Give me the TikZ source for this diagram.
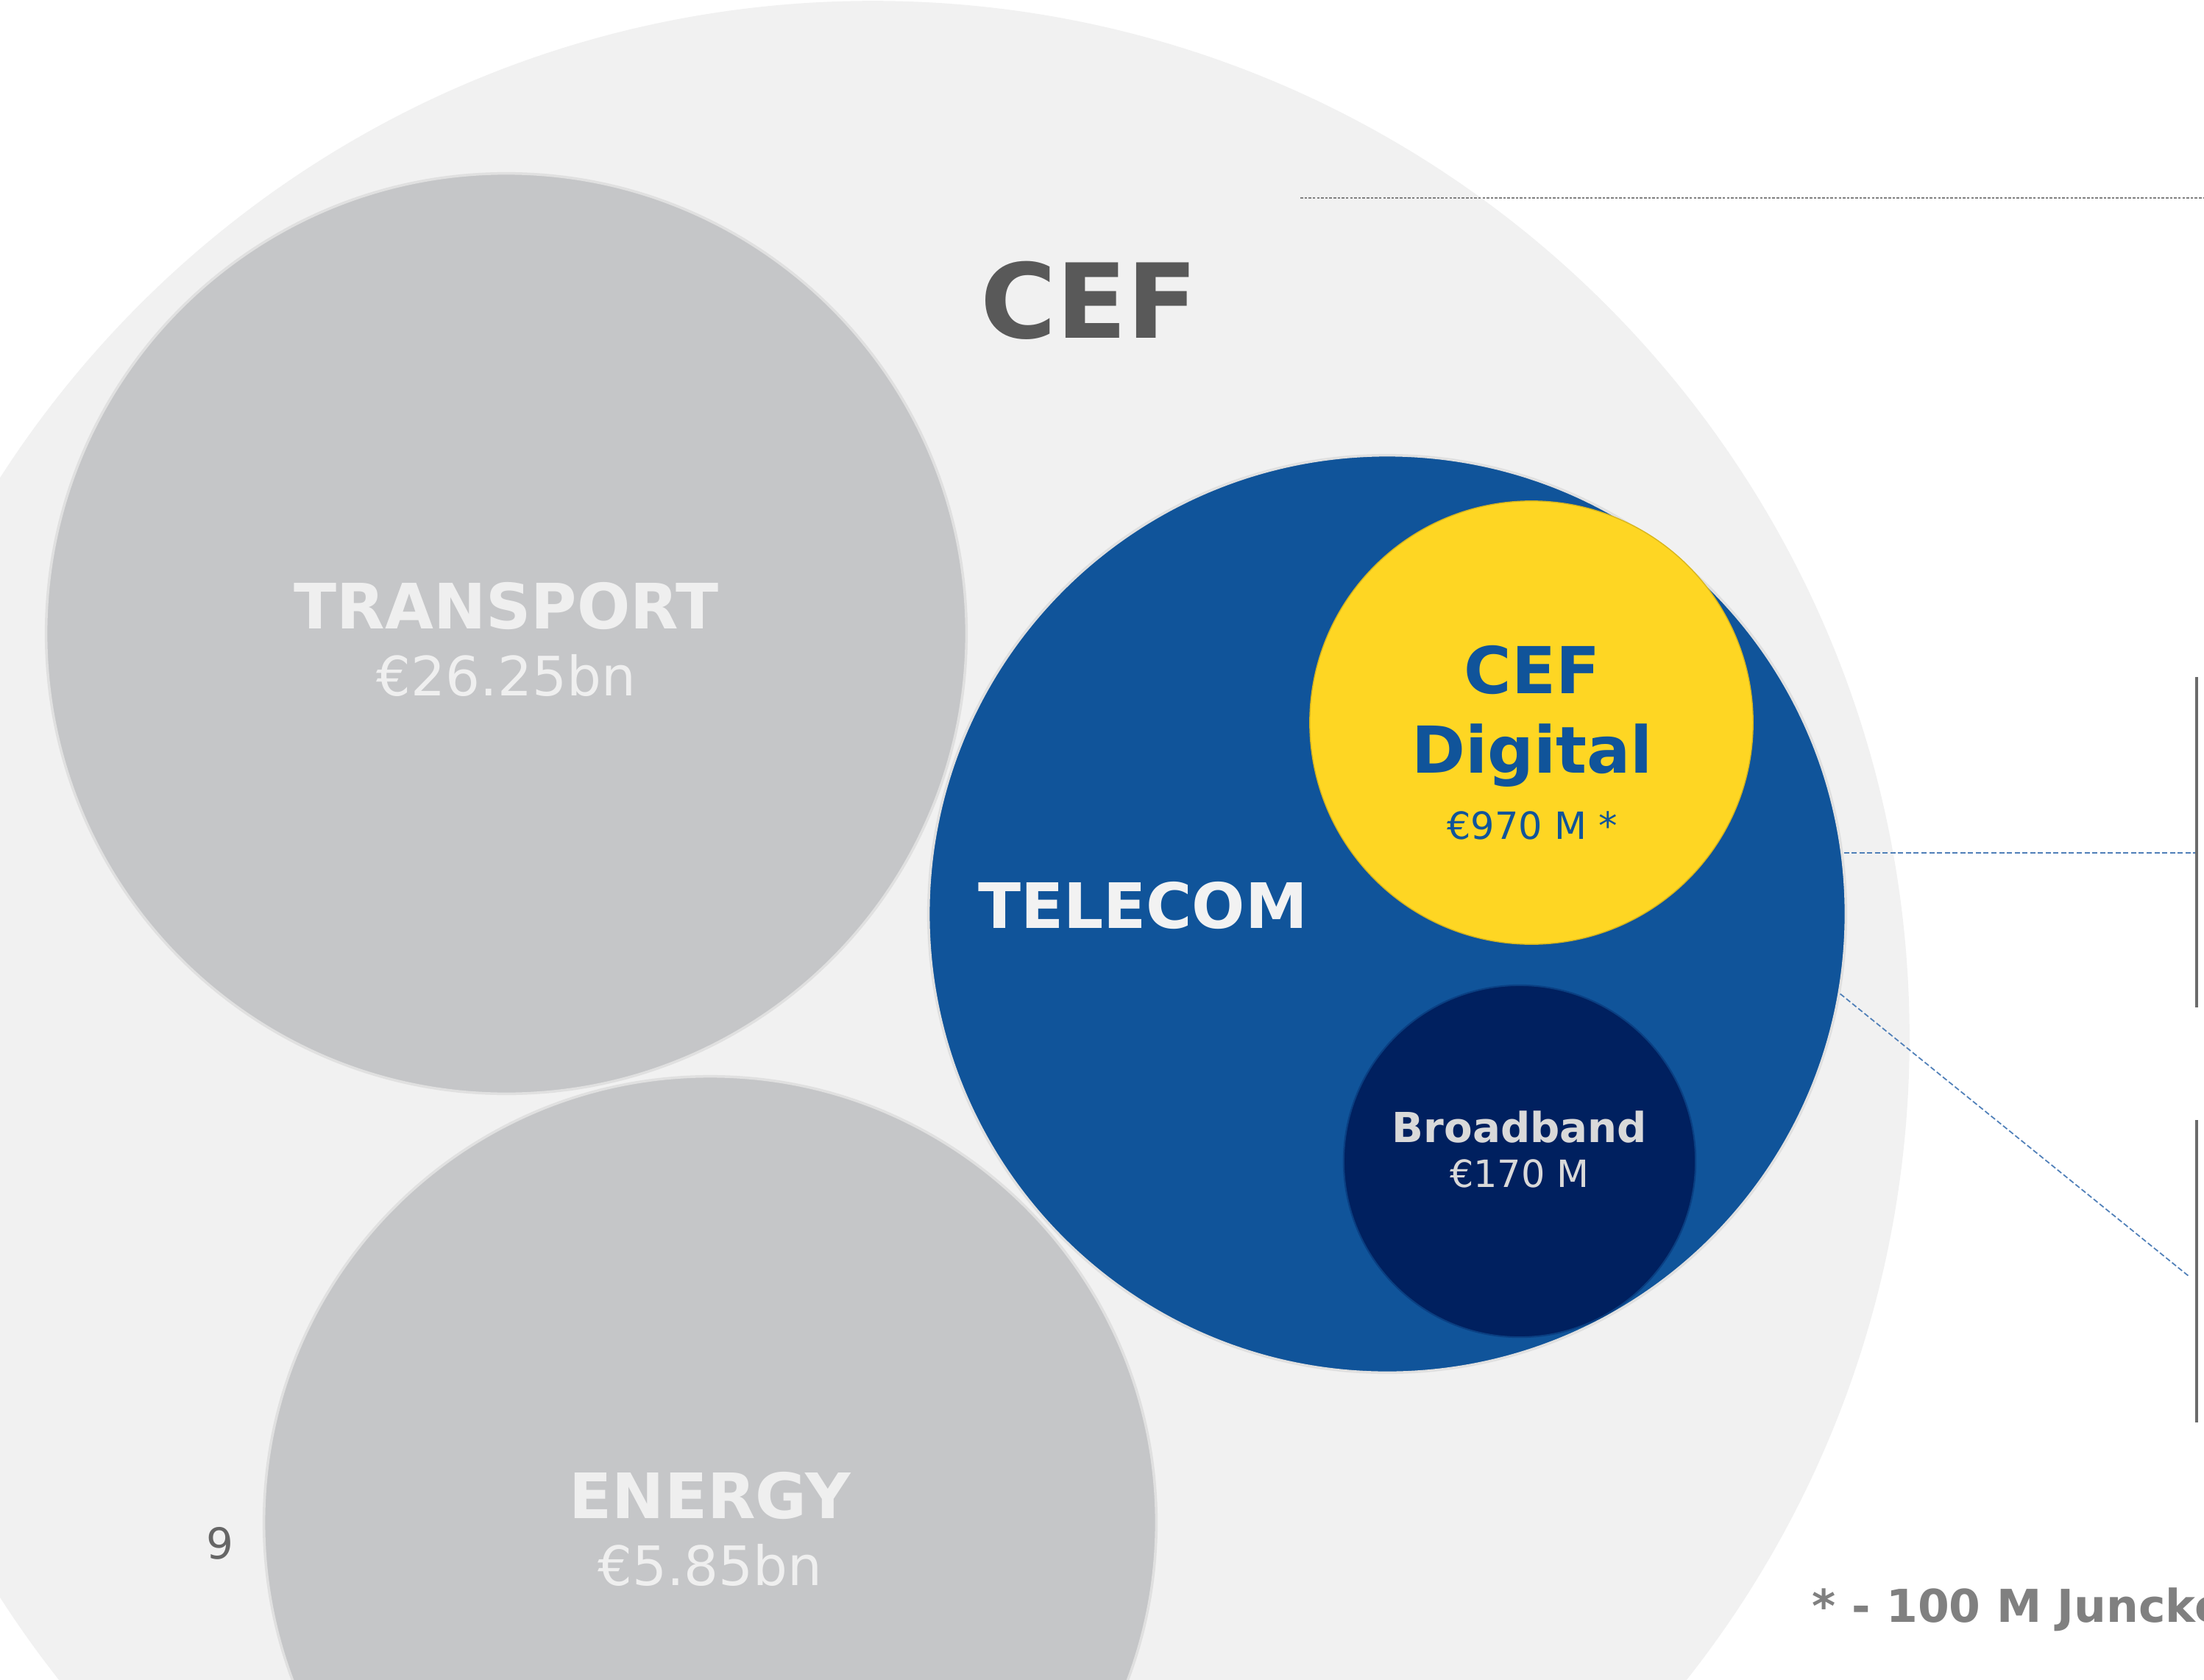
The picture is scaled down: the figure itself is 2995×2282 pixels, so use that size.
\documentclass[tikz,border=0pt]{standalone}
\usepackage{fontspec}
\setmainfont{DejaVu Sans}
\usepackage{tikz}

\definecolor{cefbg}{HTML}{F1F1F1}
\definecolor{sectorgray}{HTML}{C5C6C8}
\definecolor{sectortext}{HTML}{EFEFEF}
\definecolor{telecomblue}{HTML}{10549A}
\definecolor{cefyellow}{HTML}{FED623}
\definecolor{bbnavy}{HTML}{00205F}
\definecolor{titlegray}{HTML}{595959}
\definecolor{leadblue}{HTML}{4F7FB8}
\definecolor{bargray}{HTML}{6B6B6B}

\tikzset{
  bubble/.style={circle, inner sep=0pt, draw=black!12, line width=1pt},
  sectorname/.style={anchor=base, font=\bfseries\fontsize{24.2}{29}\selectfont},
  sectoramount/.style={anchor=base, font=\fontsize{21}{25}\selectfont},
  leader/.style={leadblue, line width=0.5pt, dash pattern=on 2pt off 1pt},
  sidebar/.style={bargray, line width=1.2pt}
}

\begin{document}
\begin{tikzpicture}[x=0.01cm,y=-0.01cm]
		\useasboundingbox (0,0) rectangle (2995,2282);
		\clip (0,0) rectangle (2995,2282);

		% draw bubbles
		\node[bubble, draw=none, fill=cefbg, minimum size=28.16cm] (cef) at (1186,1410) {};
		\node[bubble, fill=sectorgray, minimum size=12.5cm] (transport) at (688,861) {};
		\node[bubble, fill=sectorgray, minimum size=12.12cm] (energy) at (965,2069) {};
		\node[bubble, fill=telecomblue, minimum size=12.46cm] (telecom) at (1885,1242) {};
		\node[bubble, draw=cefyellow!85!black, line width=0.4pt, fill=cefyellow, minimum size=6.02cm] (digital) at (2081,982) {};
		\node[bubble, draw=telecomblue!60!bbnavy, line width=0.6pt, fill=bbnavy, minimum size=4.78cm] (broadband) at (2065,1578) {};

		% draw labels
		\node[anchor=base, text=titlegray, font=\bfseries\fontsize{40}{48}\selectfont] (ceftitle) at (1480,459) {CEF};
		\node[sectorname, text=sectortext] (transportname) at (688,854) {TRANSPORT};
		\node[sectoramount, text=sectortext] (transportamount) at (688,945) {€26.25bn};
		\node[sectorname, text=sectortext] (energyname) at (965,2063) {ENERGY};
		\node[sectoramount, text=sectortext] (energyamount) at (965,2154) {€5.85bn};
		\node[sectorname, text=white!95!black] (telecomname) at (1553,1261) {TELECOM};
		\node[anchor=base, text=telecomblue, font=\bfseries\fontsize{25}{30}\selectfont] (digitalname) at (2082,942) {CEF};
		\node[anchor=base, text=telecomblue, font=\bfseries\fontsize{25}{30}\selectfont] (digitalname2) at (2082,1050) {Digital};
		\node[anchor=base, text=telecomblue, font=\fontsize{14.5}{17}\selectfont] (digitalamount) at (2082,1140) {€970 M *};
		\node[anchor=base, text=black!15, font=\bfseries\fontsize{16}{19}\selectfont] (bbname) at (2065,1552) {Broadband};
		\node[anchor=base, text=black!15, font=\fontsize{14.5}{17}\selectfont] (bbamount) at (2065,1613) {€170 M};

		% page number and footnote
		\node[anchor=base, text=black!60, font=\fontsize{16.5}{19}\selectfont] (pagenum) at (299,2118) {9};
		\node[anchor=base west, inner sep=0pt, text=black!50, font=\bfseries\fontsize{17.5}{21}\selectfont] (footnote) at (2462,2204) {* - 100 M Juncker};

		% draw side bars
		\coordinate (barA) at (2985,920);
		\coordinate (barB) at (2985,1369);
		\coordinate (barC) at (2985,1522);
		\coordinate (barD) at (2985,1933);
		\draw[sidebar] (barA) -- (barB);
		\draw[sidebar] (barC) -- (barD);

		% draw leader lines
		\coordinate (topstart) at (1767,269);
		\coordinate (topend) at (2995,269);
		\coordinate (digitalend) at (2983,1159);
		\coordinate (bbend) at (2974,1734);
		\draw[black!50, line width=0.8pt, dash pattern=on 1pt off 0.6pt] (topstart) -- (topend);
		\draw[leader] (telecom.7.6 |- digitalend) -- (digitalend);
		\draw[leader] (telecom.-10.9) -- (bbend);
\end{tikzpicture}
\end{document}
